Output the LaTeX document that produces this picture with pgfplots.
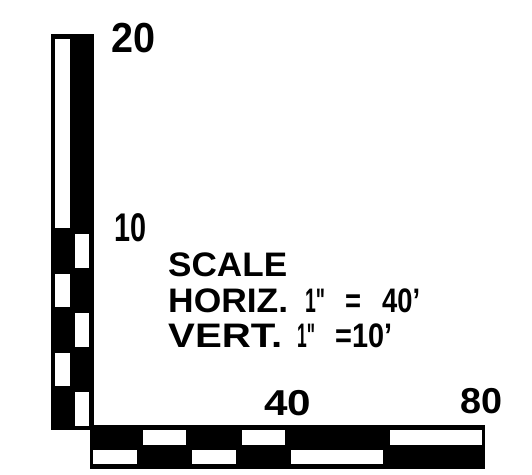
\documentclass[border=0pt]{standalone}
\usepackage{pgfplots}
\pgfplotsset{compat=1.18}
\usepackage{graphicx}
\usepackage{fontspec}
\setmainfont{Liberation Sans}
\newcommand{\fw}[2]{\resizebox{#1}{\height}{#2}}
\newcommand{\lb}[1]{\fontsize{#1}{#1}\selectfont\bfseries}
\begin{document}
\begin{tikzpicture}[x=1pt,y=1pt]
\path[use as bounding box] (0,0) rectangle (532,474);
% vertical scale bar (units: columns 0-2, feet 0-20)
\begin{axis}[at={(51pt,44pt)}, anchor=south west, scale only axis,
  width=43pt, height=396pt, xmin=0, xmax=2, ymin=0, ymax=20,
  hide axis, clip=false]
\addplot[fill=black, draw=none] coordinates {(0,0) (2,0) (2,20) (0,20)} -- cycle;
\addplot[fill=white, draw=none] coordinates {(0.19,10.2) (0.88,10.2) (0.88,19.75) (0.19,19.75)} -- cycle;
\addplot[fill=white, draw=none] coordinates {(0.19,6.2) (0.88,6.2) (0.88,7.9) (0.19,7.9)} -- cycle;
\addplot[fill=white, draw=none] coordinates {(0.19,2.2) (0.88,2.2) (0.88,3.9) (0.19,3.9)} -- cycle;
\addplot[fill=white, draw=none] coordinates {(1.12,8.2) (1.77,8.2) (1.77,9.9) (1.12,9.9)} -- cycle;
\addplot[fill=white, draw=none] coordinates {(1.12,4.2) (1.77,4.2) (1.77,5.9) (1.12,5.9)} -- cycle;
\addplot[fill=white, draw=none] coordinates {(1.12,0.2) (1.77,0.2) (1.77,1.9) (1.12,1.9)} -- cycle;
\end{axis}
% horizontal scale bar (units: feet 0-80, rows 0-2)
\begin{axis}[at={(90pt,5pt)}, anchor=south west, scale only axis,
  width=395pt, height=44pt, xmin=0, xmax=80, ymin=0, ymax=2,
  hide axis, clip=false]
\addplot[fill=black, draw=none] coordinates {(0,0) (80,0) (80,2) (0,2)} -- cycle;
\addplot[fill=white, draw=none] coordinates {(10.7,1.09) (19.5,1.09) (19.5,1.77) (10.7,1.77)} -- cycle;
\addplot[fill=white, draw=none] coordinates {(30.7,1.09) (39.5,1.09) (39.5,1.77) (30.7,1.77)} -- cycle;
\addplot[fill=white, draw=none] coordinates {(60.7,1.09) (79.4,1.09) (79.4,1.77) (60.7,1.77)} -- cycle;
\addplot[fill=white, draw=none] coordinates {(0.7,0.23) (9.5,0.23) (9.5,0.86) (0.7,0.86)} -- cycle;
\addplot[fill=white, draw=none] coordinates {(20.7,0.23) (29.5,0.23) (29.5,0.86) (20.7,0.86)} -- cycle;
\addplot[fill=white, draw=none] coordinates {(40.7,0.23) (59.4,0.23) (59.4,0.86) (40.7,0.86)} -- cycle;
\end{axis}
% labels
\node[anchor=base west, inner sep=0] at (111,421) {\lb{42}\fw{44pt}{20}};
\node[anchor=base west, inner sep=0] at (114,232) {\lb{40}\fw{32pt}{10}};
\node[anchor=base west, inner sep=0] at (264,59) {\lb{36}\fw{47pt}{40}};
\node[anchor=base west, inner sep=0] at (460,61) {\lb{36}\fw{42pt}{80}};
% scale text
\node[anchor=base west, inner sep=0] at (168,197) {\lb{34}\fw{119pt}{SCALE}};
\node[anchor=base west, inner sep=0] at (168,162) {\lb{34}\fw{120pt}{HORIZ.}};
\node[anchor=base west, inner sep=0] at (305,162) {\lb{34}\fw{20pt}{1\textquotedbl}};
\node[anchor=base west, inner sep=0] at (345,162) {\lb{34}\fw{16pt}{=}};
\node[anchor=base west, inner sep=0] at (382,162) {\lb{34}\fw{38pt}{40'}};
\node[anchor=base west, inner sep=0] at (168,127) {\lb{34}\fw{114pt}{VERT.}};
\node[anchor=base west, inner sep=0] at (297,127) {\lb{34}\fw{18pt}{1\textquotedbl}};
\node[anchor=base west, inner sep=0] at (335,127) {\lb{34}\fw{57pt}{=10'}};
\end{tikzpicture}
\end{document}
